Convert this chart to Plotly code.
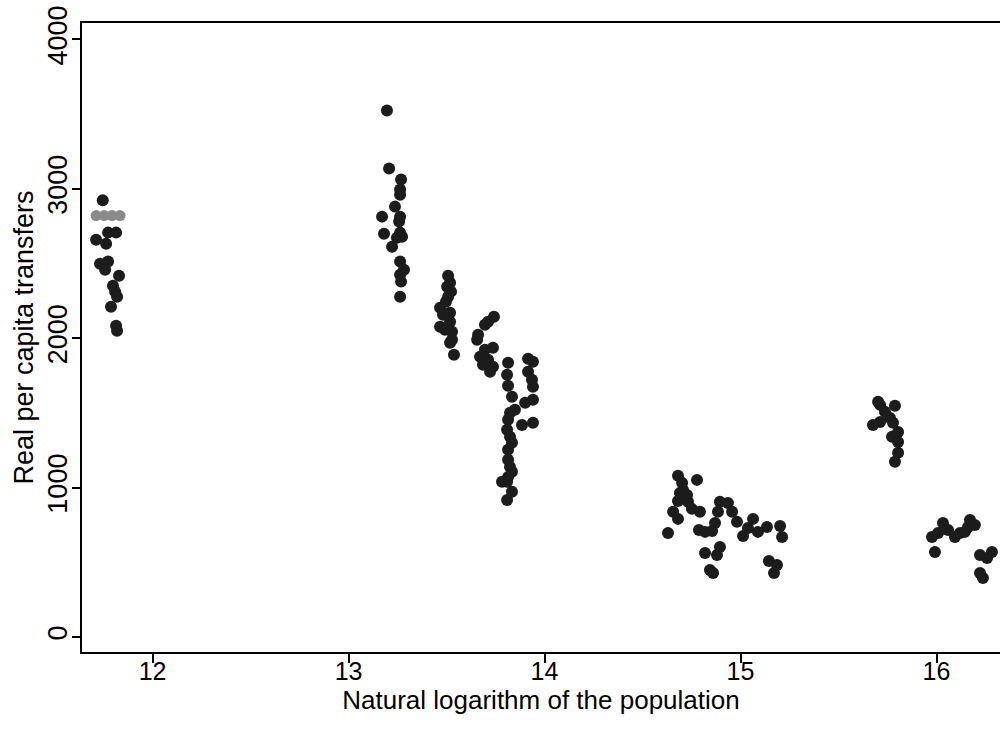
import plotly.graph_objects as go

# Natural log of population (x) and real per capita transfers (y)
x_black = [
    11.746, 11.773, 11.814, 11.712, 11.763, 11.732, 11.773, 11.758, 11.829, 11.798, 11.809, 11.819, 11.788, 11.814, 11.819,
    13.196, 13.207, 13.268, 13.263, 13.263, 13.237, 13.171, 13.263, 13.258, 13.263, 13.273, 13.247, 13.181, 13.222, 13.263, 13.283, 13.263, 13.268, 13.263,
    13.508, 13.518, 13.503, 13.523, 13.508, 13.497, 13.467, 13.482, 13.518, 13.467, 13.492, 13.518, 13.528, 13.528, 13.518, 13.538,
    13.742, 13.712, 13.696, 13.661, 13.656, 13.737, 13.696, 13.671, 13.712, 13.686, 13.737, 13.722, 13.814, 13.809, 13.814, 13.834,
    13.916, 13.941, 13.916, 13.936, 13.941, 13.941, 13.901, 13.849, 13.824, 13.814, 13.941, 13.885, 13.809, 13.824, 13.834, 13.814,
    13.814, 13.824, 13.834, 13.814, 13.783, 13.809, 13.834, 13.809,
    14.681, 14.778, 14.702, 14.707, 14.691, 14.727, 14.681, 14.732, 14.752, 14.793, 14.656, 14.681, 14.630, 14.788, 14.819, 14.855,
    14.870, 14.895, 14.936, 14.957, 14.885, 14.982, 14.819, 14.895, 14.880, 14.844, 14.860, 15.064, 15.038, 15.013, 15.089, 15.135,
    15.202, 15.212, 15.145, 15.186, 15.171,
    15.702, 15.712, 15.788, 15.737, 15.763, 15.676, 15.712, 15.778, 15.804, 15.773, 15.804, 15.804, 15.788,
    15.992, 15.977, 16.008, 16.033, 16.059, 16.094, 16.120, 16.145, 16.171, 16.196, 16.161, 16.222, 16.283, 16.258, 16.222, 16.237,
]
y_black = [
    2923, 2707, 2707, 2660, 2633, 2499, 2513, 2459, 2419, 2352, 2312, 2278, 2211, 2084, 2050,
    3524, 3136, 3062, 2995, 2961, 2881, 2814, 2814, 2781, 2707, 2680, 2673, 2700, 2613, 2513, 2459, 2425, 2379, 2278,
    2419, 2372, 2345, 2312, 2278, 2245, 2204, 2157, 2171, 2077, 2057, 2110, 2043, 1990, 1970, 1889,
    2144, 2110, 2090, 2023, 1990, 1936, 1923, 1876, 1856, 1822, 1809, 1775, 1836, 1755, 1682, 1608,
    1863, 1843, 1775, 1722, 1675, 1588, 1568, 1521, 1501, 1454, 1434, 1420, 1387, 1340, 1300, 1253,
    1186, 1139, 1106, 1072, 1039, 1039, 972, 918,
    1079, 1052, 1032, 985, 965, 951, 911, 905, 858, 838, 838, 791, 697, 717, 704, 710,
    764, 905, 898, 838, 838, 771, 563, 603, 549, 449, 429, 791, 730, 677, 704, 737,
    744, 670, 509, 482, 429,
    1575, 1554, 1548, 1508, 1467, 1420, 1440, 1434, 1373, 1340, 1306, 1233, 1173,
    570, 670, 697, 764, 717, 670, 697, 704, 784, 750, 737, 549, 570, 529, 429, 395,
]
# faint (grey) points in the first cluster
x_grey = [11.712, 11.753, 11.793, 11.834]
y_grey = [2821, 2821, 2821, 2821]

x_ticks = [12, 13, 14, 15, 16]
y_ticks = [0, 1000, 2000, 3000, 4000]

font = "Liberation Sans, Arial, sans-serif"

fig = go.Figure()
fig.add_trace(go.Scatter(x=x_grey, y=y_grey, mode="markers",
                         marker=dict(size=11, color="#8a8a8a"), showlegend=False))
fig.add_trace(go.Scatter(x=x_black, y=y_black, mode="markers",
                         marker=dict(size=12, color="#1c1c1c"), showlegend=False))

fig.update_layout(
    width=1000, height=731,
    margin=dict(l=82, r=0, t=23, b=79),
    paper_bgcolor="white", plot_bgcolor="white",
    font=dict(family=font, size=24, color="black"),
    showlegend=False,
)
fig.update_xaxes(
    range=[11.64, 16.324], tickvals=x_ticks, ticktext=[str(v) for v in x_ticks],
    showgrid=False, zeroline=False, showline=True, linecolor="black", linewidth=2,
    mirror=True, ticks="outside", ticklen=9, tickwidth=2, tickcolor="black",
    tickfont=dict(size=25), automargin=False, ticklabelstandoff=-13,
    title=dict(text="Natural logarithm of the population", font=dict(size=26), standoff=0),
)
fig.update_yaxes(
    range=[-100, 4110], tickvals=y_ticks, ticktext=[str(v) for v in y_ticks],
    showgrid=False, zeroline=False, showline=True, linecolor="black", linewidth=2,
    ticks="outside", ticklen=8, tickwidth=2, tickcolor="black",
    tickangle=-90, tickfont=dict(size=27), automargin=False, ticklabelstandoff=-6,
    title=dict(text="Real per capita transfers", font=dict(size=27), standoff=2),
)

fig.write_html("out.html")
